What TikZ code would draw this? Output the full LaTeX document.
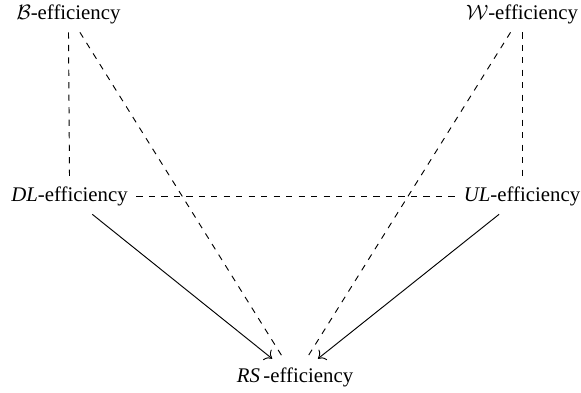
\documentclass[tikz,border=0pt]{standalone}
\usepackage{fontspec}
\setmainfont{Liberation Serif}
\newfontfamily\lserif{Liberation Serif}
\usetikzlibrary{arrows.meta}
\begin{document}
\begin{tikzpicture}[x=0.4808pt,y=-0.4808pt,
  eff/.style={inner sep=4pt, font=\lserif\fontsize{10}{12}\selectfont},
  dline/.style={dashed, line width=0.45pt},
  sline/.style={line width=0.45pt, -{To[length=3.2pt,width=6.4pt]}}]
\useasboundingbox (0,0) rectangle (581,392);
\node[eff] (B) at (68.5,14) {$\mathcal{B}$-efficiency};
\node[eff] (W) at (522,14) {$\mathcal{W}$-efficiency};
\node[eff] (DL) at (69.5,196) {\textit{DL}-efficiency};
\node[eff] (UL) at (522,196) {\textit{UL}-efficiency};
\node[eff] (RS) at (295,377) {\textit{RS}\,-efficiency};
\draw[dline] (B.south) -- (DL.north);
\draw[dline] (W.south) -- (UL.north);
\draw[dline] (DL) -- (UL);
\draw[dline] (B) -- (RS);
\draw[dline] (W) -- (RS);
\draw[sline] (DL) -- (RS);
\draw[sline] (UL) -- (RS);
\end{tikzpicture}
\end{document}
